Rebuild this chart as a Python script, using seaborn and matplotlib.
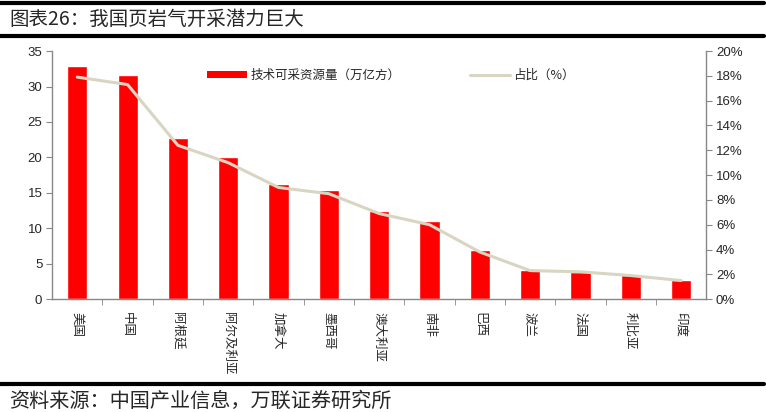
import numpy as np
import pandas as pd
import matplotlib
matplotlib.use("Agg")
import matplotlib.pyplot as plt
from matplotlib.lines import Line2D
from matplotlib.patches import Patch
from matplotlib.ticker import FixedLocator, FuncFormatter
import seaborn as sns

# data
countries = ["美国", "中国", "阿根廷", "阿尔及利亚", "加拿大", "墨西哥", "澳大利亚",
             "南非", "巴西", "波兰", "法国", "利比亚", "印度"]
reserves = [32.9, 31.6, 22.7, 20.0, 16.2, 15.4, 12.4, 11.0, 6.9, 4.1, 3.8, 3.4, 2.7]
share = [17.9, 17.3, 12.4, 11.0, 9.0, 8.5, 6.9, 6.0, 3.8, 2.3, 2.2, 1.9, 1.5]

title = "图表26：我国页岩气开采潜力巨大"
source = "资料来源：中国产业信息，万联证券研究所"
bar_label = "技术可采资源量（万亿方）"
line_label = "占比（%）"

sns.set_style("white")
plt.rcParams['font.family'] = ['Liberation Sans', 'Noto Sans CJK SC', 'DejaVu Sans']
cjk = ['Noto Sans CJK SC', 'DejaVu Sans']

df = pd.DataFrame({"country": countries, "reserves": reserves,
                   "share": share, "pos": np.arange(len(countries))})

fig = plt.figure(figsize=(7.66, 4.12), dpi=100)
ax = fig.add_axes([0.068, 0.274, 0.854, 0.602])

sns.barplot(data=df, x="country", y="reserves", color="#FF0000",
            saturation=1, width=0.4, ax=ax)
ax.set_xlim(-0.5, len(countries) - 0.5)
ax.set_ylim(0, 35)
ax.set_yticks(range(0, 36, 5))
ax.set_xlabel("")
ax.set_ylabel("")

ax2 = ax.twinx()
sns.lineplot(data=df, x="pos", y="share", color="#D8D5C2", linewidth=2.2, ax=ax2)
ax2.set_ylim(0, 20)
ax2.set_yticks(range(0, 21, 2))
ax2.yaxis.set_major_formatter(FuncFormatter(lambda v, p: f"{v:.0f}%"))
ax2.set_xlabel("")
ax2.set_ylabel("")
ax2.set_xlim(-0.5, len(countries) - 0.5)

for a in (ax, ax2):
    a.spines["top"].set_visible(False)
    for side in ("left", "right", "bottom"):
        a.spines[side].set_color("#888888")
        a.spines[side].set_linewidth(1.0)
ax.spines["right"].set_visible(False)
ax2.spines["left"].set_visible(False)
ax2.spines["bottom"].set_visible(False)

ax.tick_params(axis="y", direction="out", length=4, color="#888888",
               labelsize=9.5, pad=3, left=True)
ax2.tick_params(axis="y", direction="out", length=4, color="#888888",
                labelsize=9.5, pad=3, right=True)

# category labels centred on bars, tick marks at category boundaries
ax.set_xticks(range(len(countries)))
ax.set_xticklabels(countries, rotation=-90, fontsize=9, family=cjk,
                   va="top", ha="center")
ax.tick_params(axis="x", which="major", length=0, pad=9)
ax.xaxis.set_minor_locator(FixedLocator(np.arange(0.5, len(countries) - 0.5, 1)))
ax.tick_params(axis="x", which="minor", direction="out", length=4,
               color="#888888", bottom=True)

handles = [Patch(facecolor="#FF0000", edgecolor="none"),
           Line2D([0], [0], color="#D8D5C2", linewidth=2.2)]
ax.legend(handles, [bar_label, line_label], ncol=2, frameon=False,
          loc="upper left", bbox_to_anchor=(0.22, 0.975),
          prop={"family": cjk, "size": 9}, handlelength=3.2,
          handleheight=0.5, columnspacing=5.5, handletextpad=0.3)

# header / footer rules and text
for y in (0.9935, 0.913, 0.068):
    fig.add_artist(Line2D([0.0, 0.997], [y, y], color="black", linewidth=3.0,
                          transform=fig.transFigure))
fig.text(0.012, 0.953, title, fontsize=14, family=cjk, va="center", ha="left")
fig.text(0.012, 0.025, source, fontsize=14.5, family=cjk, style="italic",
         va="center", ha="left")

fig.savefig("out.png", dpi=100)
